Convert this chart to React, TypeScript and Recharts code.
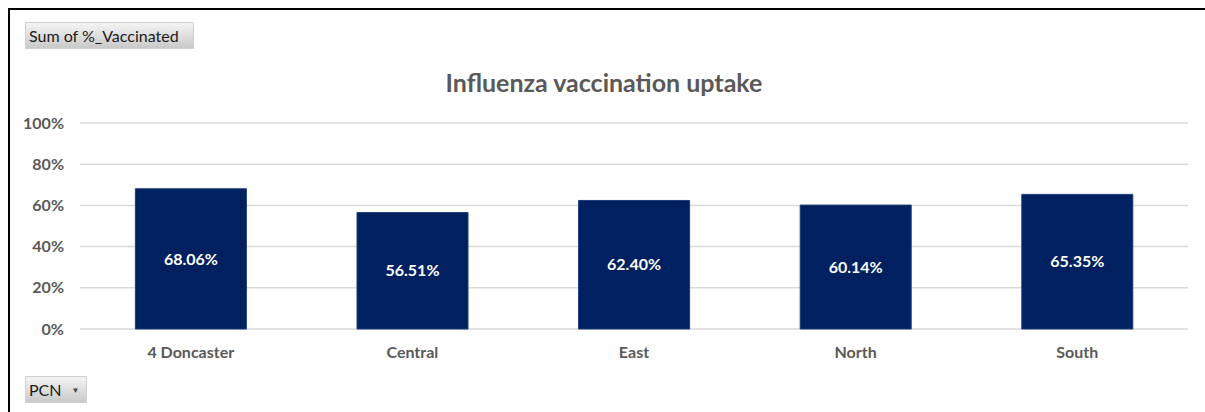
import React from "react";
import { BarChart, Bar, XAxis, YAxis, CartesianGrid, LabelList } from "recharts";

const categories = ["4 Doncaster", "Central", "East", "North", "South"];
const vaccinated = [68.06, 56.51, 62.4, 60.14, 65.35];
const yTicks = [0, 20, 40, 60, 80, 100];

const data = categories.map((pcn, i) => ({ pcn, value: vaccinated[i] }));

const FONT = "Lato, 'Noto Sans', sans-serif";
const GREY = "#595959";

const buttonStyle: React.CSSProperties = {
  position: "absolute",
  boxSizing: "border-box",
  background: "linear-gradient(#f4f4f4, #c9c9c9)",
  border: "1px solid #d0d0d0",
  fontFamily: FONT,
  fontSize: 16,
  color: "#1a1a1a",
  display: "flex",
  alignItems: "center",
  paddingLeft: 3,
};

export default function App() {
  return (
    <div style={{ position: "absolute", left: 0, top: 0, width: 1205, height: 412, background: "#fff", overflow: "hidden" }}>
      <div
        style={{
          position: "absolute",
          left: 8,
          top: 8,
          width: 1210,
          height: 420,
          borderTop: "2px solid #000",
          borderLeft: "2px solid #000",
          boxSizing: "border-box",
        }}
      />
      <div
        style={{
          position: "absolute",
          left: 0,
          top: 67,
          width: 1208,
          textAlign: "center",
          fontFamily: FONT,
          fontWeight: 700,
          fontSize: 25,
          color: GREY,
          lineHeight: "30px",
        }}
      >
        Influenza vaccination uptake
      </div>
      <div style={{ position: "absolute", left: 0, top: 0 }}>
        <BarChart
          width={1205}
          height={412}
          data={data}
          margin={{ top: 123, right: 17, left: 0, bottom: 53 }}
          barCategoryGap="25%"
        >
          <CartesianGrid vertical={false} stroke="#d9d9d9" strokeWidth={1.5} />
          <XAxis
            dataKey="pcn"
            axisLine={false}
            tickLine={false}
            tickSize={0}
            tickMargin={18}
            height={30}
            interval={0}
            tick={{ fill: GREY, fontSize: 16, fontWeight: 700, fontFamily: FONT }}
          />
          <YAxis
            domain={[0, 100]}
            ticks={yTicks}
            width={80}
            axisLine={false}
            tickLine={false}
            tickSize={0}
            tickMargin={16}
            tickFormatter={(v: number) => `${v}%`}
            tick={{ fill: GREY, fontSize: 16, fontWeight: 700, fontFamily: FONT }}
          />
          <Bar dataKey="value" fill="#002060" stroke="#1c3a75" strokeWidth={1} isAnimationActive={false}>
            <LabelList
              dataKey="value"
              position="center"
              formatter={(v: number) => `${v.toFixed(2)}%`}
              fill="#ffffff"
              style={{ fontSize: 16, fontWeight: 700, fontFamily: FONT }}
            />
          </Bar>
        </BarChart>
      </div>
      <div style={{ ...buttonStyle, left: 25, top: 22, width: 169, height: 27 }}>Sum of %_Vaccinated</div>
      <div style={{ ...buttonStyle, left: 25, top: 376, width: 62, height: 27 }}>
        PCN
        <span style={{ fontSize: 8, color: "#444", marginLeft: 10 }}>▼</span>
      </div>
    </div>
  );
}
